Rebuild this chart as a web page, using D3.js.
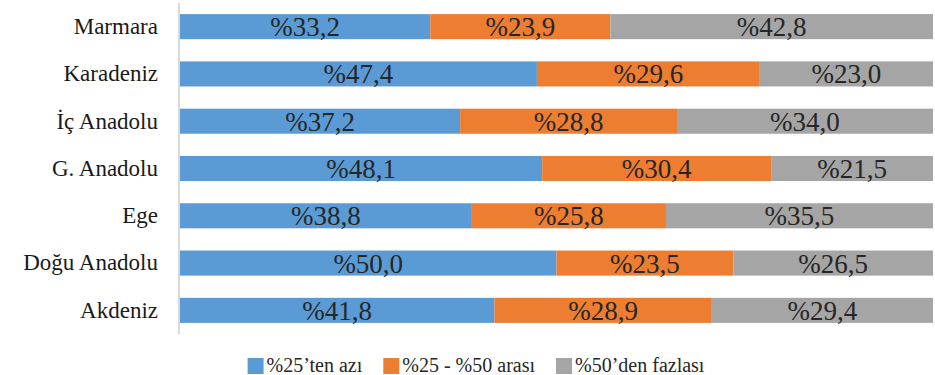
<!DOCTYPE html>
<html><head><meta charset="utf-8">
<script src="https://cdn.jsdelivr.net/npm/d3@7"></script>
<style>body{margin:0;background:#fff}svg{display:block}
.t{font-family:"Liberation Serif","DejaVu Serif","Noto Serif",serif;}</style>
</head><body>
<svg id="c" width="935" height="375"></svg>
<script>
const categories = ["Marmara","Karadeniz","İç Anadolu","G. Anadolu","Ege","Doğu Anadolu","Akdeniz"];
const seriesNames = ["%25’ten azı","%25 - %50 arası","%50’den fazlası"];
const low  = [33.2,47.4,37.2,48.1,38.8,50.0,41.8];
const mid  = [23.9,29.6,28.8,30.4,25.8,23.5,28.9];
const high = [42.8,23.0,34.0,21.5,35.5,26.5,29.4];
const colors = ["#5b9bd5","#ed7d31","#a5a5a5"];

const rows = categories.map((c,i)=>({cat:c, s0:low[i], s1:mid[i], s2:high[i]}));
const keys = ["s0","s1","s2"];
const stack = d3.stack().keys(keys).offset(d3.stackOffsetExpand)(rows);

const svg = d3.select("#c");
const x = d3.scaleLinear().domain([0,1]).range([180,933]);
const y = d3.scaleBand().domain(categories).range([3,334]).paddingInner(0.47).paddingOuter(0.235);

const g = svg.append("g");
stack.forEach((layer,li)=>{
  const lg = g.append("g").attr("fill",colors[li]);
  lg.selectAll("rect").data(layer).join("rect")
    .attr("x",d=>x(d[0])).attr("width",d=>x(d[1])-x(d[0]))
    .attr("y",d=>y(d.data.cat)).attr("height",y.bandwidth());
});
stack.forEach((layer,li)=>{
  g.append("g").selectAll("text").data(layer).join("text")
    .attr("class","t")
    .attr("x",d=>(x(d[0])+x(d[1]))/2)
    .attr("y",d=>y(d.data.cat)+y.bandwidth()/2)
    .attr("dy","0.35em")
    .attr("text-anchor","middle")
    .attr("font-size",27).attr("fill","#262626")
    .text(d=>"%"+d3.format(".1f")(d.data[keys[li]]).replace(".",","));
});

// axis
const ax = svg.append("g").attr("transform","translate(179,0)")
  .call(d3.axisLeft(y).tickSize(0).tickPadding(21));
ax.attr("font-family",null);
ax.select(".domain").attr("stroke","#d9d9d9").attr("stroke-width",2).attr("d","M0,3V334");
ax.selectAll("text").attr("class","t").attr("font-size",23).attr("fill","#1a1a1a");

// legend
const leg = svg.append("g");
let cx = 0;
seriesNames.forEach((n,i)=>{
  const it = leg.append("g").attr("transform",`translate(${cx},0)`);
  it.append("rect").attr("x",0).attr("y",358).attr("width",16).attr("height",16).attr("fill",colors[i]);
  const t = it.append("text").attr("class","t").attr("x",19).attr("y",372).attr("font-size",20).attr("fill","#262626").text(n);
  cx += 19 + t.node().getComputedTextLength() + 21;
});
const total = cx - 21;
leg.attr("transform",`translate(${476 - total/2},0)`);
</script>
</body></html>
